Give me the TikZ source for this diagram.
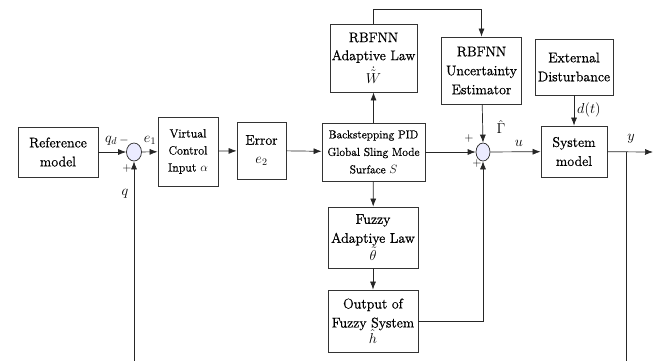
\documentclass[tikz,border=0pt]{standalone}
\usepackage{fontspec}
\setmainfont{Latin Modern Roman}[FakeBold=0.8]
\usetikzlibrary{arrows.meta,shapes.geometric}
\begin{document}
\begin{tikzpicture}[x=1pt,y=-1pt,
  >={Latex[length=8pt,width=6pt]},
  wire/.style={draw=black!85,line width=0.7pt},
  blk/.style={draw=black!80,line width=0.8pt,fill=white,align=center,inner sep=0pt,
    font=\rmfamily\fontsize{14}{19}\selectfont},
  sumnode/.style={ellipse,draw=black!85,line width=0.7pt,fill=blue!8!white,inner sep=0pt},
  lbl/.style={inner sep=1pt,font=\fontsize{14}{16}\selectfont},
  sgn/.style={inner sep=0pt,font=\fontsize{12}{12}\selectfont\bfseries}]
\useasboundingbox (0,0) rectangle (660,360);
\clip (0,0) rectangle (660,360);

% blocks
\node[blk,minimum width=80,minimum height=50] (ref) at (58,152) {Reference\\model};
\node[sumnode,minimum width=15,minimum height=18] (s1) at (134,152) {};
\node[blk,minimum width=60,minimum height=69,font=\rmfamily\fontsize{12}{17}\selectfont] (vci) at (188,151.5)
  {Virtual\\Control\\Input $\alpha$};
\node[blk,minimum width=49,minimum height=57] (err) at (261.5,150.5) {Error\\$e_2$};
\node[blk,minimum width=103,minimum height=58,font=\rmfamily\fontsize{11.5}{17.5}\selectfont] (bs) at (373.5,152)
  {Backstepping PID\\Global Sling Mode\\Surface $S$};
\node[blk,minimum width=87,minimum height=68,font=\rmfamily\fontsize{14}{18}\selectfont] (rbfa) at (373.5,58)
  {RBFNN\\Adaptive Law\\[3pt]$\dot{\tilde{W}}$};
\node[blk,minimum width=80,minimum height=67] (rbfu) at (481.5,70.5)
  {RBFNN\\Uncertainty\\Estimator};
\node[blk,minimum width=78,minimum height=56] (ext) at (574,67)
  {External\\Disturbance};
\node[sumnode,minimum width=14,minimum height=18] (s2) at (483,152) {};
\node[blk,minimum width=66,minimum height=51] (sys) at (574,151.5) {System\\model};
\node[blk,minimum width=90,minimum height=61] (fal) at (373,237.5)
  {Fuzzy\\Adaptiye Law\\[-1pt]$\tilde{\theta}$};
\node[blk,minimum width=90,minimum height=62] (ofs) at (373,321)
  {Output of\\Fuzzy System\\[-3pt]$\hat{h}$};

% free ends
\coordinate (yout) at (653,152);
\coordinate (yb) at (626,152);
\coordinate (fb) at (626,370);
\coordinate (qb) at (134,370);
\coordinate (top) at (373.5,9);

% forward path
\draw[wire,->] (ref) -- (s1);
\draw[wire,->] (s1) -- (vci);
\draw[wire,->] (vci) -- (err);
\draw[wire,->] (err) -- (bs);
\draw[wire,->] (bs.east) -- (s2.west);
\draw[wire,->] (s2) -- (sys);
\draw[wire,->] (sys) -- (yout);
\draw[wire] (yb) -- (fb);
\draw[wire,->] (qb) -- (s1.south);

% adaptive branches
\draw[wire,->] (bs) -- (rbfa);
\draw[wire,->] (rbfa.north) -- (top) -| (rbfu.north);
\draw[wire,->] (rbfu) -- (s2.north);
\draw[wire,->] (ext) -- (sys.north -| ext);
\draw[wire,->] (bs) -- (fal);
\draw[wire,->] (fal) -- (ofs);
\draw[wire,->] (ofs.east |- 0,321) -| (s2.south);

% signal labels
\node[lbl] at (111,141) {$q_d$};
\node[sgn] at (124,140) {$-$};
\node[sgn] at (127,168) {$+$};
\node[lbl] at (125,194) {$q$};
\node[lbl] at (150,140) {$e_1$};
\node[sgn] at (469,138) {$+$};
\node[sgn] at (477,163) {$+$};
\node[lbl] at (501,127) {$\hat{\Gamma}$};
\node[lbl] at (519,143) {$u$};
\node[lbl,anchor=west] at (576,110) {$d(t)$};
\node[lbl] at (631,139) {$y$};
\end{tikzpicture}
\end{document}
